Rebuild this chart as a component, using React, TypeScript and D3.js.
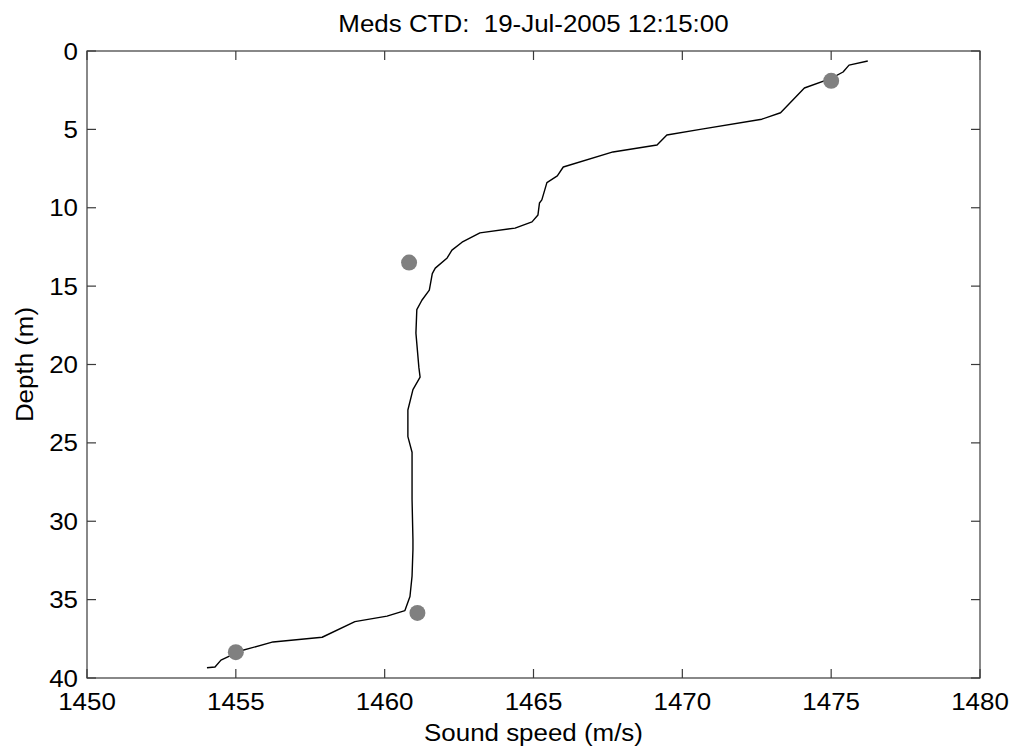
import React from "react";
import * as d3 from "d3";

const titleText = "Meds CTD:  19-Jul-2005 12:15:00";
const xLabel = "Sound speed (m/s)";
const yLabel = "Depth (m)";
const xTicks = [1450, 1455, 1460, 1465, 1470, 1475, 1480];
const yTicks = [0, 5, 10, 15, 20, 25, 30, 35, 40];

// CTD profile (sound speed m/s, depth m)
const profileSpeed = [
  1476.23, 1475.6, 1475.4, 1475.0, 1474.1, 1473.3, 1472.67, 1470.6, 1469.48, 1469.15,
  1467.67, 1466.0, 1465.8, 1465.45, 1465.28, 1465.2, 1465.15, 1464.95, 1464.38, 1463.2,
  1462.6, 1462.26, 1462.1, 1461.7, 1461.6, 1461.5, 1461.25, 1461.08, 1461.05, 1461.15,
  1461.19, 1460.95, 1460.78, 1460.78, 1460.92, 1460.92, 1460.95, 1460.95, 1460.92, 1460.85,
  1460.68, 1460.08, 1459.0, 1457.9, 1456.25, 1455.14, 1454.5, 1454.3, 1454.03,
];
const profileDepth = [
  0.64, 0.9, 1.34, 1.75, 2.36, 3.94, 4.35, 5.0, 5.36, 6.0,
  6.44, 7.4, 7.97, 8.4, 9.5, 9.7, 10.46, 10.9, 11.3, 11.6,
  12.2, 12.7, 13.2, 13.85, 14.2, 15.25, 15.9, 16.5, 18.0, 20.2,
  20.8, 21.6, 22.9, 24.6, 25.6, 28.6, 31.2, 31.8, 33.5, 34.8,
  35.7, 36.05, 36.4, 37.4, 37.7, 38.28, 38.86, 39.3, 39.35,
];

// Sample markers
const markerSpeed = [1475.0, 1460.82, 1461.1, 1455.0];
const markerDepth = [1.9, 13.5, 35.85, 38.35];

const W = 1013;
const H = 747;
const left = 87, right = 980, top = 51, bottom = 678;
const FONT = "'Liberation Sans', Arial, Helvetica, sans-serif";
const FS = 24;
const SX = 1.08;
const TICK = 9;
const axisColor = "#3a3a3a";

function T(props: { x: number; y: number; anchor: string; rot?: boolean; children: React.ReactNode }) {
  const tr = `translate(${props.x},${props.y})${props.rot ? " rotate(-90)" : ""} scale(${SX},1)`;
  return (
    <text transform={tr} textAnchor={props.anchor} fontFamily={FONT} fontSize={FS} fill="#000" style={{ whiteSpace: "pre" }}>
      {props.children}
    </text>
  );
}

export default function App() {
  const x = d3.scaleLinear().domain([1450, 1480]).range([left, right]);
  const y = d3.scaleLinear().domain([0, 40]).range([top, bottom]);
  const pts: [number, number][] = profileSpeed.map((s, i) => [s, profileDepth[i]]);
  const line = d3
    .line<[number, number]>()
    .x((d) => x(d[0]))
    .y((d) => y(d[1]));

  return (
    <svg width={W} height={H} style={{ position: "absolute", left: 0, top: 0, background: "#fff" }}>
      <rect x={0} y={0} width={W} height={H} fill="#fff" />
      <rect x={left} y={top} width={right - left} height={bottom - top} fill="none" stroke={axisColor} strokeWidth={1.2} />
      {xTicks.map((t) => (
        <g key={"xt" + t}>
          <line x1={x(t)} x2={x(t)} y1={bottom} y2={bottom - TICK} stroke={axisColor} strokeWidth={1.2} />
          <line x1={x(t)} x2={x(t)} y1={top} y2={top + TICK} stroke={axisColor} strokeWidth={1.2} />
          <T x={x(t)} y={710} anchor="middle">{t}</T>
        </g>
      ))}
      {yTicks.map((t) => (
        <g key={"yt" + t}>
          <line x1={left} x2={left + TICK} y1={y(t)} y2={y(t)} stroke={axisColor} strokeWidth={1.2} />
          <line x1={right} x2={right - TICK} y1={y(t)} y2={y(t)} stroke={axisColor} strokeWidth={1.2} />
          <T x={78} y={y(t) + 8.5} anchor="end">{t}</T>
        </g>
      ))}
      <path d={line(pts) || ""} fill="none" stroke="#000" strokeWidth={1.4} strokeLinejoin="round" />
      {markerSpeed.map((s, i) => (
        <circle key={"m" + i} cx={x(s)} cy={y(markerDepth[i])} r={8} fill="#808080" />
      ))}
      <T x={(left + right) / 2} y={32} anchor="middle">{titleText}</T>
      <T x={(left + right) / 2} y={741} anchor="middle">{xLabel}</T>
      <T x={33} y={(top + bottom) / 2} anchor="middle" rot>{yLabel}</T>
    </svg>
  );
}
